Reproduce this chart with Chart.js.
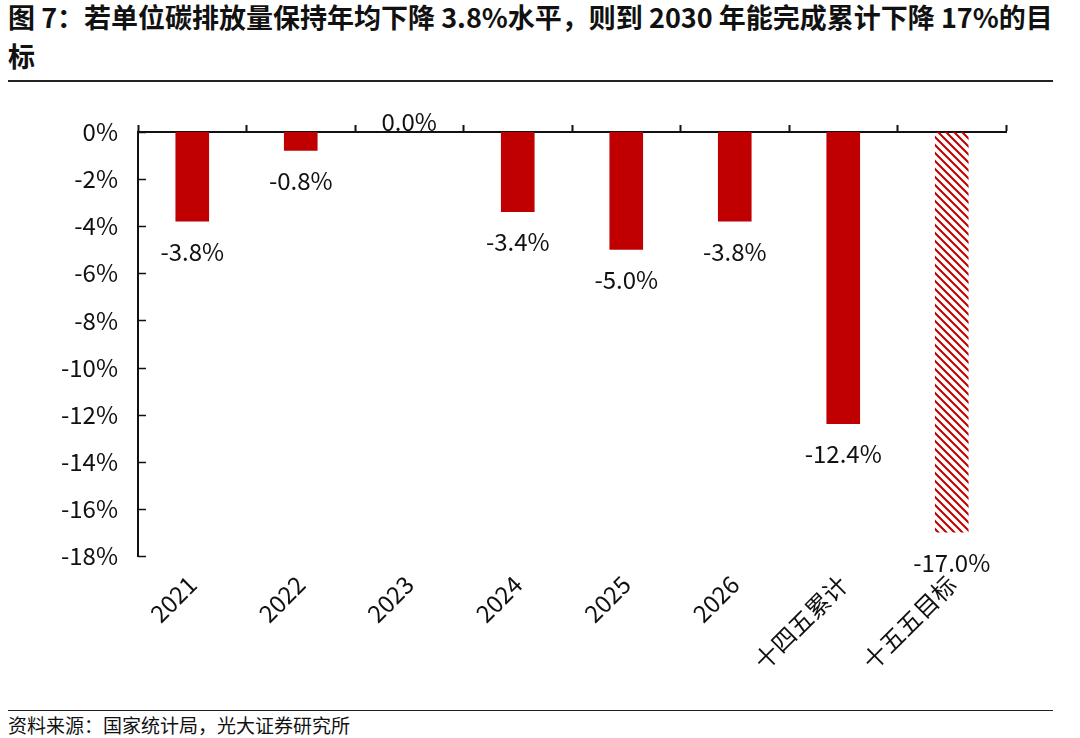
<!DOCTYPE html>
<html>
<head>
<meta charset="utf-8">
<script src="https://cdn.jsdelivr.net/npm/chart.js@4/dist/chart.umd.min.js"></script>
<style>
    body { margin: 0; background: #fff; width: 1080px; height: 738px; position: relative; overflow: hidden;
        font-family: "Noto Sans CJK SC", "Noto Sans", sans-serif; }
    #title { position: absolute; left: 8px; top: -3px; width: 1075px; font-size: 27px; font-weight: bold;
        line-height: 39px; color: #111; white-space: nowrap; }
    #topLine { position: absolute; left: 8px; top: 80px; width: 1045px; height: 0; border-top: 2.5px solid #222; }
    #bottomLine { position: absolute; left: 8px; top: 710px; width: 1045px; height: 0; border-top: 1.5px solid #222; }
    #source { position: absolute; left: 8px; top: 711px; font-size: 19px; color: #111; }
    #wrap { position: absolute; left: 0; top: 90px; width: 1080px; height: 610px; }
</style>
</head>
<body>
<div id="title">图 7：若单位碳排放量保持年均下降 3.8%水平，则到 2030 年能完成累计下降 17%的目<br>标</div>
<div id="topLine"></div>
<div id="wrap"><canvas id="chart"></canvas></div>
<div id="bottomLine"></div>
<div id="source">资料来源：国家统计局，光大证券研究所</div>
<script>
const categories = ['2021', '2022', '2023', '2024', '2025', '2026', '十四五累计', '十五五目标'];
const changes = [-3.8, -0.8, 0.0, -3.4, -5.0, -3.8, -12.4, -17.0];
const yTicks = [0, -2, -4, -6, -8, -10, -12, -14, -16, -18];

const RED = '#c00000';
const FONT = '"Noto Sans CJK SC", "Noto Sans", sans-serif';

function hatchPattern() {
    const c = document.createElement('canvas');
    c.width = 8;
    c.height = 8;
    const g = c.getContext('2d');
    g.strokeStyle = RED;
    g.lineWidth = 2;
    g.beginPath();
    g.moveTo(-2, -2); g.lineTo(10, 10);
    g.moveTo(-2, 6); g.lineTo(2, 10);
    g.moveTo(6, -2); g.lineTo(10, 2);
    g.stroke();
    return g.createPattern(c, 'repeat');
}

// value labels below the bar end (above the axis for zero)
const valueLabels = {
    id: 'valueLabels',
    afterDatasetsDraw(chart) {
        const ctx = chart.ctx;
        const meta = chart.getDatasetMeta(0);
        ctx.save();
        ctx.font = '24px ' + FONT;
        ctx.fillStyle = '#111';
        ctx.textAlign = 'center';
        ctx.textBaseline = 'middle';
        meta.data.forEach((bar, i) => {
            const v = changes[i];
            const y = v < 0 ? bar.y + 30 : bar.y - 10;
            ctx.fillText(v.toFixed(1) + '%', bar.x, y);
        });
        ctx.restore();
    }
};

// y ticks point into the plot
const innerTicks = {
    id: 'innerTicks',
    afterDraw(chart) {
        const y = chart.scales.y;
        const ctx = chart.ctx;
        ctx.save();
        ctx.strokeStyle = '#111';
        ctx.lineWidth = 1.5;
        ctx.beginPath();
        y.ticks.forEach(t => {
            const py = Math.round(y.getPixelForValue(t.value)) + 0.5;
            ctx.moveTo(y.right, py);
            ctx.lineTo(y.right + 8, py);
        });
        ctx.stroke();
        ctx.restore();
    }
};

const ctx = document.getElementById('chart').getContext('2d');
const hatch = hatchPattern();

new Chart(ctx, {
    type: 'bar',
    data: {
        labels: categories,
        datasets: [{
            data: changes,
            backgroundColor: categories.map((c, i) => i === categories.length - 1 ? hatch : RED),
            borderWidth: 0,
            categoryPercentage: 1,
            barPercentage: 0.31
        }]
    },
    options: {
        responsive: true,
        maintainAspectRatio: false,
        animation: false,
        layout: { padding: { left: 0, right: 74, top: 0, bottom: 0 } },
        plugins: { legend: { display: false }, tooltip: { enabled: false } },
        scales: {
            x: {
                position: 'bottom',
                grid: { display: false },
                border: { display: false },
                ticks: {
                    autoSkip: false,
                    maxRotation: 45,
                    minRotation: 45,
                    padding: 6,
                    color: '#111',
                    font: { family: FONT, size: 24 }
                },
                afterFit(scale) { scale.height = 144; }
            },
            x2: {
                type: 'category',
                labels: categories,
                position: 'top',
                offset: true,
                grid: {
                    display: true,
                    offset: true,
                    drawOnChartArea: false,
                    drawTicks: true,
                    tickLength: 7,
                    tickWidth: 2,
                    color: '#111'
                },
                border: { display: true, color: '#111', width: 2 },
                ticks: { display: false },
                afterFit(scale) { scale.height = 42; }
            },
            y: {
                min: -18,
                max: 0,
                afterBuildTicks(scale) { scale.ticks = yTicks.map(v => ({ value: v })); },
                grid: { display: false, drawTicks: false },
                border: { display: true, color: '#111', width: 2 },
                ticks: {
                    padding: 20,
                    color: '#111',
                    font: { family: FONT, size: 24 },
                    callback: v => v + '%'
                },
                afterFit(scale) { scale.width = 138; }
            }
        }
    },
    plugins: [valueLabels, innerTicks]
});
</script>
</body>
</html>
